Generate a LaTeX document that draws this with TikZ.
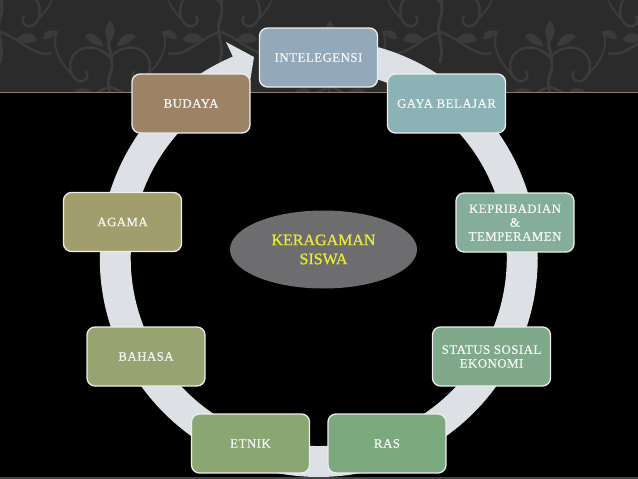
\documentclass[tikz,border=0pt]{standalone}
\usepackage{fontspec}
\setmainfont{Liberation Serif}
\newfontfamily\boxfont[LetterSpace=4,FakeBold=0.6]{Liberation Serif}
\newfontfamily\centrefont[FakeBold=0.8]{Liberation Serif}
\usetikzlibrary{shapes.geometric,calc}
\definecolor{bandc}{HTML}{2B2B2B}
\definecolor{dmkc}{HTML}{3B3B3B}
\definecolor{tanc}{HTML}{8C7B66}
\definecolor{botc}{HTML}{444444}
\definecolor{ringc}{HTML}{DDE1E6}
\definecolor{boxline}{HTML}{EDEDED}
\definecolor{boxtext}{HTML}{F6F6F6}
\definecolor{ellc}{HTML}{6D6D70}
\definecolor{yel}{HTML}{EBEB35}
\definecolor{cInt}{HTML}{93A9B9}
\definecolor{cGaya}{HTML}{8BB3B5}
\definecolor{cKep}{HTML}{84AE9B}
\definecolor{cSta}{HTML}{80A98B}
\definecolor{cRas}{HTML}{7CA87D}
\definecolor{cEtn}{HTML}{8AA673}
\definecolor{cBah}{HTML}{97A472}
\definecolor{cAga}{HTML}{A19D6D}
\definecolor{cBud}{HTML}{9D8366}
\tikzset{
  dmk/.style={draw=dmkc, line cap=round},
  leaf/.style={fill=dmkc},
  damask/.pic={
    \draw[dmk, line width=3pt] (0,-50) .. controls (-8,-30) and (8,-15) .. (0,5) .. controls (-6,20) and (6,35) .. (0,55);
    \foreach \s in {1,-1}{
      \begin{scope}[xscale=\s]
        \draw[dmk, line width=2.5pt] (0,-15) .. controls (25,-40) and (55,-20) .. (45,5) .. controls (38,20) and (22,12) .. (28,2);
        \draw[dmk, line width=2.5pt] (0,20) .. controls (20,25) and (40,50) .. (60,45);
        \draw[dmk, line width=2pt] (45,5) .. controls (60,-10) and (70,-30) .. (62,-45);
        \fill[leaf] (20,28) .. controls (28,18) and (40,20) .. (44,30) .. controls (36,34) and (26,34) .. (20,28);
        \fill[leaf] (8,-28) .. controls (12,-42) and (24,-46) .. (30,-40) .. controls (24,-32) and (16,-28) .. (8,-28);
        \fill[leaf] (62,-45) .. controls (72,-50) and (80,-44) .. (78,-36) .. controls (70,-36) and (64,-40) .. (62,-45);
      \end{scope}
    }
    \fill[leaf] (0,-58) .. controls (9,-48) and (6,-40) .. (0,-33) .. controls (-6,-40) and (-9,-48) .. (0,-58);
  }
}
\begin{document}
\begin{tikzpicture}[x=1pt,y=-1pt,
  cbox/.style={draw=boxline, line width=1.3pt, rounded corners=8pt,
    minimum width=118pt, minimum height=59pt, inner sep=0pt, align=center,
    text=boxtext, font=\boxfont\fontsize{12.8}{13.8}\selectfont},
  centre/.style={ellipse, fill=ellc, minimum width=187pt, minimum height=78pt,
    inner sep=0pt, align=center, text=yel, font=\centrefont\fontsize{16}{19}\selectfont}]
\useasboundingbox (0,0) rectangle (638,479);
% background
\fill[black] (0,0) rectangle (638,479);
\begin{scope}
  \clip (0,0) rectangle (638,92);
  \fill[bandc] (0,0) rectangle (638,92);
  \foreach \px/\py in {-110/55, 0/15, 110/70, 220/15, 330/70, 440/15, 550/70, 660/15}
    \pic[scale=0.85] at (\px,\py) {damask};
\end{scope}
\draw[tanc, line width=1.6pt] (0,92.5) -- (638,92.5);
\fill[botc] (0,477) rectangle (638,479);
% circular arrow
\coordinate (C) at (318.75,258);
\coordinate (flare) at (226,42);
\coordinate (tip) at (254,57);
\coordinate (inner) at (249,88);
\fill[ringc] ($(C)+(270:219)$) arc[start angle=270, end angle=606.9, radius=219]
  -- (flare) -- (tip) -- (inner)
  -- ($(C)+(606.9:188)$) arc[start angle=606.9, end angle=270, radius=188] -- cycle;
% centre
\node[centre] (keragaman) at (323.5,249.5) {KERAGAMAN\\SISWA};
% boxes
\node[cbox, fill=cInt] (intelegensi) at (318.5,57.5) {INTELEGENSI};
\node[cbox, fill=cGaya] (gaya) at (446.5,103.5) {GAYA BELAJAR};
\node[cbox, fill=cKep] (kepribadian) at (515,222.5) {KEPRIBADIAN\\\&\\TEMPERAMEN};
\node[cbox, fill=cSta] (status) at (491.5,356.5) {STATUS SOSIAL\\EKONOMI};
\node[cbox, fill=cRas] (ras) at (387,443.5) {RAS};
\node[cbox, fill=cEtn] (etnik) at (250.5,443.5) {ETNIK};
\node[cbox, fill=cBah] (bahasa) at (146,356.5) {BAHASA};
\node[cbox, fill=cAga] (agama) at (122.5,222) {AGAMA};
\node[cbox, fill=cBud] (budaya) at (191,103.5) {BUDAYA};
\end{tikzpicture}
\end{document}
